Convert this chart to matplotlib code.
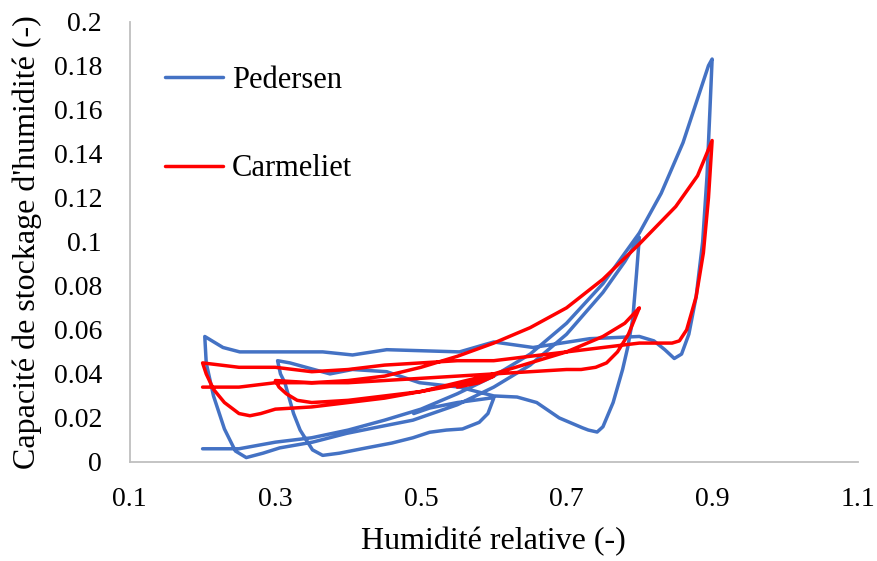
import matplotlib
matplotlib.use("Agg")
import matplotlib.pyplot as plt
from matplotlib.ticker import FuncFormatter

plt.rcParams['font.family'] = ['Liberation Serif', 'DejaVu Serif']

# Pedersen: relative humidity / moisture storage capacity
ped_rh = [0.2, 0.25, 0.3, 0.35, 0.4, 0.45, 0.5, 0.55, 0.6, 0.65, 0.7, 0.75, 0.8, 0.83, 0.86, 0.88, 0.895, 0.9,
          0.897, 0.893, 0.887, 0.878, 0.868, 0.858, 0.848, 0.835, 0.82, 0.8, 0.732, 0.654, 0.6, 0.553, 0.453, 0.406,
          0.365, 0.296, 0.251, 0.228, 0.203,
          0.205, 0.215, 0.23, 0.245, 0.26, 0.283, 0.306, 0.351, 0.398, 0.443, 0.489, 0.55, 0.6, 0.65, 0.7, 0.75,
          0.78, 0.8,
          0.796, 0.791, 0.784, 0.777, 0.764, 0.75, 0.742, 0.73, 0.722, 0.69, 0.659, 0.632, 0.6, 0.553, 0.498,
          0.453, 0.406, 0.375, 0.32, 0.303,
          0.307, 0.313, 0.325, 0.334, 0.351, 0.365, 0.388, 0.425, 0.46, 0.489, 0.512, 0.535, 0.557, 0.58, 0.592, 0.6,
          0.595, 0.55, 0.512, 0.49]
ped_cap = [0.006, 0.006, 0.009, 0.011, 0.0145, 0.019, 0.024, 0.031, 0.039, 0.049, 0.063, 0.081, 0.104, 0.122, 0.145,
           0.165, 0.18, 0.183,
           0.16, 0.13, 0.1, 0.075, 0.058, 0.049, 0.047, 0.051, 0.055, 0.057, 0.056, 0.052, 0.0545, 0.05, 0.051, 0.0486,
           0.05, 0.05, 0.05, 0.052, 0.057,
           0.045, 0.03, 0.015, 0.005, 0.002, 0.004, 0.0064, 0.009, 0.013, 0.016, 0.019, 0.026, 0.034, 0.044, 0.058,
           0.077, 0.091, 0.102,
           0.085, 0.065, 0.052, 0.042, 0.027, 0.016, 0.0136, 0.0145, 0.0155, 0.02, 0.027, 0.0295, 0.03, 0.034, 0.036,
           0.041, 0.042, 0.04, 0.045, 0.046,
           0.04, 0.036, 0.022, 0.0145, 0.0055, 0.003, 0.004, 0.0064, 0.0086, 0.011, 0.0135, 0.0145, 0.015, 0.018,
           0.022, 0.029,
           0.029, 0.027, 0.0245, 0.022]

# Carmeliet
car_rh = [0.2, 0.25, 0.3, 0.35, 0.4, 0.45, 0.5, 0.55, 0.6, 0.65, 0.7, 0.75, 0.8, 0.85, 0.88, 0.9,
          0.895, 0.888, 0.878, 0.865, 0.855, 0.845, 0.82, 0.8, 0.75, 0.7, 0.65, 0.6, 0.55, 0.5, 0.45, 0.4, 0.35,
          0.3, 0.25, 0.2,
          0.205, 0.215, 0.23, 0.25, 0.265, 0.28, 0.3, 0.35, 0.4, 0.45, 0.5, 0.55, 0.6, 0.65, 0.7, 0.75, 0.78, 0.8,
          0.795, 0.785, 0.77, 0.755, 0.74, 0.72, 0.7, 0.65, 0.6, 0.55, 0.5, 0.45, 0.4, 0.35, 0.3,
          0.305, 0.315, 0.33, 0.35, 0.4, 0.45, 0.5, 0.55, 0.58, 0.6, 0.58, 0.55]
car_cap = [0.034, 0.034, 0.036, 0.036, 0.037, 0.039, 0.043, 0.048, 0.054, 0.061, 0.07, 0.083, 0.099, 0.116, 0.13,
           0.146,
           0.12, 0.095, 0.075, 0.06, 0.055, 0.054, 0.054, 0.054, 0.052, 0.05, 0.048, 0.046, 0.046, 0.045, 0.044,
           0.042, 0.041, 0.043, 0.043, 0.045,
           0.04, 0.033, 0.027, 0.022, 0.021, 0.022, 0.024, 0.025, 0.027, 0.029, 0.032, 0.036, 0.04, 0.045, 0.05,
           0.057, 0.063, 0.07,
           0.066, 0.058, 0.05, 0.045, 0.043, 0.042, 0.042, 0.041, 0.04, 0.039, 0.038, 0.037, 0.036, 0.036, 0.037,
           0.034, 0.031, 0.028, 0.027, 0.028, 0.03, 0.032, 0.035, 0.037, 0.039, 0.036, 0.034]

fig = plt.figure(figsize=(8.77, 5.61), dpi=100)
ax = fig.add_axes([0.148, 0.1765, 0.83, 0.785])

ax.plot(ped_rh, ped_cap, color='#4472C4', lw=2.5, solid_joinstyle='round', solid_capstyle='round', label='Pedersen')
ax.plot(car_rh, car_cap, color='#FF0000', lw=2.5, solid_joinstyle='round', solid_capstyle='round', label='Carmeliet')

ax.set_xlim(0.1, 1.1)
ax.set_ylim(0, 0.2)
ax.set_xticks([0.1, 0.3, 0.5, 0.7, 0.9, 1.1])
ax.set_yticks([i * 0.02 for i in range(11)])
fmt = FuncFormatter(lambda v, p: '%g' % round(v, 2))
ax.xaxis.set_major_formatter(fmt)
ax.yaxis.set_major_formatter(fmt)
ax.tick_params(length=0, labelsize=20, colors='#000000')
ax.tick_params(axis='y', pad=20)
ax.tick_params(axis='x', pad=18)

for s in ['top', 'right']:
    ax.spines[s].set_visible(False)
for s in ['left', 'bottom']:
    ax.spines[s].set_color('#BFBFBF')
    ax.spines[s].set_linewidth(1.3)

ax.set_xlabel('Humidité relative (-)', fontsize=23, labelpad=11)
ax.set_ylabel("Capacité de stockage d'humidité (-)", fontsize=23, labelpad=8)

ax.legend(loc='upper left', bbox_to_anchor=(0.048, 0.9), frameon=False, fontsize=22,
          borderpad=0, borderaxespad=0, handlelength=1.9, handletextpad=0.3, labelspacing=1.95)

fig.savefig('out.png', dpi=100)
